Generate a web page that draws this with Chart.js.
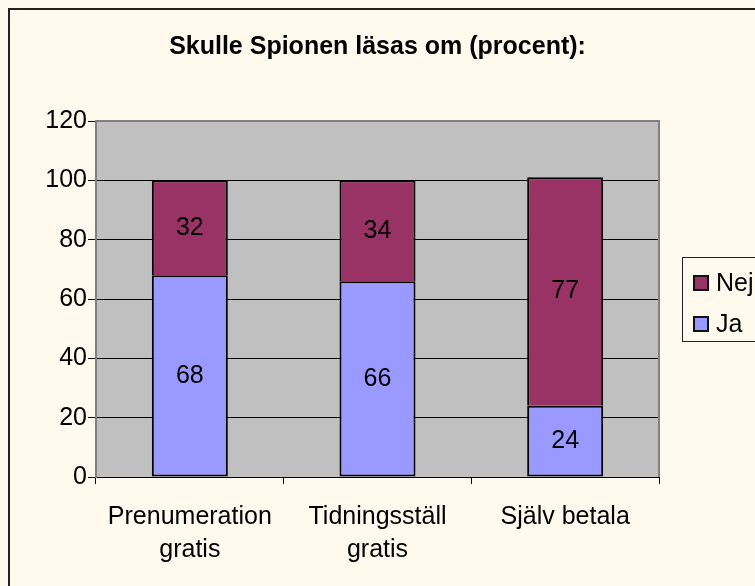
<!DOCTYPE html>
<html>
<head>
    <title>Skulle Spionen läsas om</title>
    <script src="https://cdn.jsdelivr.net/npm/chart.js"></script>
    <style>
        body {
            margin: 0;
            background: #FFF9EE;
            font-family: "Liberation Sans", Arial, sans-serif;
            overflow: hidden;
        }
        .wrap {
            position: relative;
            width: 755px;
            height: 586px;
            overflow: hidden;
        }
        .frame {
            position: absolute;
            left: 8px;
            top: 8px;
            width: 800px;
            height: 700px;
            border: 2px solid #222;
        }
        .title {
            position: absolute;
            left: 0;
            width: 755px;
            top: 31px;
            text-align: center;
            font-weight: bold;
            font-size: 25px;
        }
        .legend {
            position: absolute;
            left: 682px;
            top: 257px;
            width: 120px;
            height: 83px;
            border: 1px solid #222;
            font-size: 25px;
        }
        .legend .item {
            position: absolute;
            left: 10px;
            height: 28px;
            line-height: 28px;
        }
        .legend .sw {
            display: inline-block;
            width: 12px;
            height: 12px;
            border: 2px solid #111;
            vertical-align: middle;
            margin-right: 7px;
            margin-top: -3px;
        }
        canvas {
            position: absolute;
            left: 0;
            top: 0;
        }
    </style>
</head>
<body>
    <div class="wrap">
        <canvas id="chart" width="755" height="586"></canvas>
        <div class="frame"></div>
        <div class="title">Skulle Spionen läsas om (procent):</div>
        <div class="legend" id="legend"></div>
    </div>

    <script>
        // kategorier och värden (procent)
        const categories = [['Prenumeration', 'gratis'], ['Tidningsställ', 'gratis'], 'Själv betala'];
        const jaValues = [68, 66, 24];
        const nejValues = [32, 34, 77];
        const yTicks = [0, 20, 40, 60, 80, 100, 120];

        const colors = { 'Ja': '#9999FF', 'Nej': '#993366' };
        const font = { family: '"Liberation Sans", Arial, sans-serif', size: 25, lineHeight: 1.32 };

        // grå bakgrund i diagramytan
        const plotBg = {
            id: 'plotBg',
            beforeDraw(chart) {
                const { ctx, chartArea: a } = chart;
                ctx.save();
                ctx.fillStyle = '#C0C0C0';
                ctx.fillRect(a.left, a.top, a.right - a.left, a.bottom - a.top);
                ctx.restore();
            },
            afterDraw(chart) {
                const { ctx, chartArea: a } = chart;
                ctx.save();
                ctx.strokeStyle = '#808080';
                ctx.lineWidth = 2;
                ctx.beginPath();
                ctx.moveTo(a.left, a.top);
                ctx.lineTo(a.right, a.top);
                ctx.lineTo(a.right, a.bottom);
                ctx.stroke();
                ctx.restore();
            }
        };

        // värden mitt i varje stapeldel
        const valueLabels = {
            id: 'valueLabels',
            afterDatasetsDraw(chart) {
                const ctx = chart.ctx;
                ctx.save();
                ctx.font = font.size + 'px ' + font.family;
                ctx.fillStyle = '#000';
                ctx.textAlign = 'center';
                ctx.textBaseline = 'middle';
                chart.data.datasets.forEach((ds, i) => {
                    chart.getDatasetMeta(i).data.forEach((bar, j) => {
                        ctx.fillText(ds.data[j], bar.x, (bar.y + bar.base) / 2);
                    });
                });
                ctx.restore();
            }
        };

        const chart = new Chart(document.getElementById('chart'), {
            type: 'bar',
            data: {
                labels: categories,
                datasets: [
                    { label: 'Ja', data: jaValues, backgroundColor: colors['Ja'], borderSkipped: false },
                    { label: 'Nej', data: nejValues, backgroundColor: colors['Nej'], borderSkipped: 'start' }
                ].map(d => Object.assign(d, {
                    borderColor: '#000',
                    borderWidth: 2,
                    barPercentage: 0.405,
                    categoryPercentage: 1
                }))
            },
            options: {
                responsive: false,
                animation: false,
                layout: { padding: { top: 121, right: 96, left: 0, bottom: 0 } },
                plugins: {
                    legend: { display: false },
                    title: { display: false },
                    tooltip: { enabled: false }
                },
                scales: {
                    x: {
                        stacked: true,
                        afterFit(s) { s.height = 109; },
                        grid: {
                            offset: true,
                            drawOnChartArea: false,
                            color: '#000',
                            tickLength: 7
                        },
                        border: { color: '#000', width: 1 },
                        ticks: { color: '#000', font: font, padding: 17, maxRotation: 0 }
                    },
                    y: {
                        stacked: true,
                        min: 0,
                        max: 120,
                        afterFit(s) { s.width = 96; },
                        afterBuildTicks(s) { s.ticks = yTicks.map(v => ({ value: v })); },
                        grid: { color: '#000', tickLength: 8 },
                        border: { color: '#808080', width: 2 },
                        ticks: { color: '#000', font: font, padding: 1 }
                    }
                }
            },
            plugins: [plotBg, valueLabels]
        });

        // förklaring: Nej överst, Ja under
        const legend = document.getElementById('legend');
        ['Nej', 'Ja'].forEach((name, i) => {
            const item = document.createElement('div');
            item.className = 'item';
            item.style.top = (10 + i * 41) + 'px';
            item.innerHTML = '<span class="sw" style="background:' + colors[name] + '"></span>' + name;
            legend.appendChild(item);
        });
    </script>
</body>
</html>
